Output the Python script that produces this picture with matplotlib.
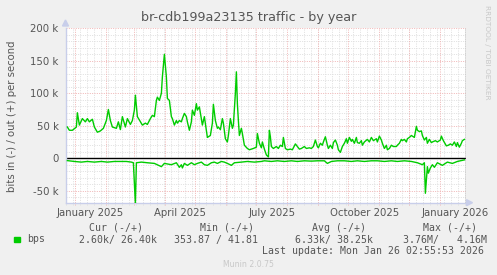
import numpy as np
import pandas as pd
import matplotlib
matplotlib.use("Agg")
import matplotlib.pyplot as plt
from matplotlib.patches import Rectangle, Polygon

# time window of the yearly graph (400 days back from last update)
start = np.datetime64("2024-12-22T02:55:53")
end = np.datetime64("2026-01-26T02:55:53")
day0 = np.datetime64("2024-12-22")

# out (+) traffic, day offset from 2024-12-22, value in kbit/s
out_day = [2, 4, 7, 11, 12, 14, 17, 20, 22, 24, 27, 29, 32, 35, 38, 41, 43, 45, 47, 51,
           53, 55, 57, 60, 62, 65, 67, 69, 70, 72, 75, 77, 80, 82, 85, 87, 89, 91, 92, 94,
           96, 97, 99, 101, 102, 104, 106, 107, 109, 111, 112, 114, 116, 117, 119, 121, 122, 124, 126, 127,
           129, 131, 132, 134, 136, 137, 139, 141, 142, 145, 147, 148, 150, 152, 153, 155, 157, 158, 160, 162,
           163, 165, 167, 168, 170, 171, 172, 173, 174, 176, 177, 179, 182, 184, 186, 188, 191, 192, 194, 196,
           197, 199, 201, 203, 204, 205, 206, 208, 211, 213, 215, 217, 218, 220, 222, 225, 227, 230, 232, 234,
           236, 239, 241, 244, 246, 248, 250, 252, 253, 255, 257, 258, 260, 262, 263, 265, 267, 268, 270, 272,
           273, 275, 277, 279, 281, 282, 284, 286, 287, 289, 291, 292, 294, 296, 297, 299, 302, 304, 306, 308,
           311, 312, 314, 316, 317, 319, 321, 322, 324, 326, 328, 331, 332, 334, 336, 337, 339, 341, 342, 344,
           346, 347, 349, 351, 352, 354, 356, 357, 359, 361, 362, 364, 366, 367, 370, 372, 375, 376, 378, 381,
           383, 385, 387, 389, 391, 392, 394, 396, 397, 399]
out_kbps = [48, 43, 43, 48, 70, 51, 61, 56, 61, 56, 60, 48, 40, 42, 46, 58, 75, 58, 48, 46,
            56, 44, 64, 48, 61, 52, 58, 74, 97, 64, 56, 51, 54, 52, 61, 66, 64, 89, 94, 89,
            100, 125, 160, 125, 92, 89, 64, 61, 51, 58, 54, 58, 56, 61, 69, 64, 56, 43, 56, 74,
            66, 84, 74, 79, 61, 51, 64, 43, 32, 35, 54, 83, 58, 46, 48, 44, 61, 54, 30, 25,
            35, 61, 46, 51, 100, 133, 84, 58, 35, 46, 38, 20, 15, 13, 14, 15, 17, 38, 23, 16,
            25, 14, 5, 2, 43, 33, 18, 15, 18, 15, 20, 18, 32, 15, 13, 14, 13, 22, 18, 14,
            15, 18, 15, 16, 15, 18, 28, 18, 16, 23, 20, 25, 33, 20, 15, 20, 15, 24, 28, 20,
            13, 9, 18, 23, 30, 23, 32, 26, 29, 23, 32, 24, 23, 27, 20, 25, 29, 25, 32, 27,
            30, 25, 34, 28, 23, 15, 20, 13, 15, 20, 18, 18, 20, 23, 29, 27, 29, 25, 30, 32,
            35, 34, 32, 49, 43, 41, 42, 35, 28, 32, 23, 29, 24, 25, 27, 25, 28, 34, 27, 19,
            20, 22, 20, 25, 18, 24, 17, 23, 27, 29]

# in (-) traffic, plotted below zero
in_day = [2, 9, 16, 22, 29, 36, 42, 49, 56, 61, 66, 68, 70, 71, 76, 82, 89, 96, 99, 106,
          111, 114, 116, 117, 119, 122, 126, 129, 132, 136, 139, 142, 146, 149, 152, 156, 159, 162, 166, 169,
          176, 182, 189, 196, 199, 206, 212, 219, 226, 232, 239, 246, 252, 259, 262, 266, 272, 279, 286, 292,
          299, 306, 312, 319, 326, 332, 339, 346, 352, 357, 359, 360, 362, 363, 365, 367, 369, 372, 377, 382,
          387, 392, 399]
in_kbps = [3.7, 5, 6, 5, 6, 5, 6, 5, 5, 5, 6, 7, 70, 7, 6, 7, 8, 13, 8, 10,
           7, 14, 10, 15, 8, 11, 7, 10, 8, 6, 10, 11, 7, 6, 8, 5, 6, 8, 11, 7,
           6, 5, 6, 5, 4, 5, 4, 5, 4, 5, 4, 4.5, 4, 4, 8, 5, 4, 4, 5, 4,
           5, 4, 4, 5, 4, 5, 4, 5, 7, 10, 7, 54, 13, 23, 15, 10, 14, 7, 11, 6,
           8, 5, 2.6]

yticks = [-50e3, 0, 50e3, 100e3, 150e3, 200e3]
ytick_labels = ["-50 k", "0", "50 k", "100 k", "150 k", "200 k"]
month_labels = ["January 2025", "April 2025", "July 2025", "October 2025", "January 2026"]
label_dates = ["2025-01-16", "2025-04-16", "2025-07-17", "2025-10-17", "2026-01-16"]

legend_head = ["Cur (-/+)", "Min (-/+)", "Avg (-/+)", "Max (-/+)"]
legend_vals = ["2.60k/ 26.40k", "353.87 / 41.81", "6.33k/ 38.25k", "3.76M/   4.16M"]

W, H = 497, 275
TXT = "#555555"
GREEN = "#00CC00"
AXISC = "#C8CEEA"
MINOR = "#DEDEDE"
MAJOR = "#F0B4B4"

fig = plt.figure(figsize=(W / 100, H / 100), dpi=100, facecolor="#F0F0F0")
L, R, T, B = 65.5, 465.5, 28.3, 202.7
ax = fig.add_axes([L / W, 1 - B / H, (R - L) / W, (B - T) / H])
ax.set_facecolor("white")

ax.set_xlim(start, end)
ax.set_ylim(-68.5e3, 200e3)

# grid: weekly gray, monthly red, 10k gray, 50k red
weeks = pd.date_range("2024-12-23", "2026-01-26", freq="W-MON").to_numpy()
months = pd.date_range("2025-01-01", "2026-01-26", freq="MS").to_numpy()
dot = (0, (1, 1.4))
trans = ax.get_xaxis_transform()
ax.vlines(weeks, -0.012, 1, transform=trans, colors=MINOR, lw=0.7, linestyles=dot, clip_on=False, zorder=1)
ax.vlines(months, -0.012, 1, transform=trans, colors=MAJOR, lw=0.7, linestyles=dot, clip_on=False, zorder=1.1)
for v in np.arange(-60e3, 200e3 + 1, 10e3):
    if v % 50e3 == 0:
        ax.axhline(v, color=MAJOR, lw=0.7, ls=dot, zorder=1.1)
    else:
        ax.axhline(v, color=MINOR, lw=0.7, ls=dot, zorder=1)

x_out = day0 + np.array(out_day).astype("timedelta64[D]")
x_in = day0 + np.array(in_day).astype("timedelta64[D]")
ax.plot(x_out, np.array(out_kbps) * 1000, color=GREEN, lw=1.0, zorder=3)
ax.plot(x_in, -np.array(in_kbps) * 1000, color=GREEN, lw=1.0, zorder=3)
ax.axhline(0, color="black", lw=1.0, zorder=2.5)
ax.axvline(end, color="#888888", lw=1.0, zorder=4)

ax.set_yticks(yticks)
ax.set_yticklabels(ytick_labels)
ax.set_xticks(np.array(label_dates, dtype="datetime64[D]"))
ax.set_xticklabels(month_labels)
ax.tick_params(axis="y", length=0, pad=5, labelsize=7.3, labelcolor=TXT)
ax.tick_params(axis="x", length=0, pad=3.5, labelsize=7.3, labelcolor=TXT)

for s in ["top", "right"]:
    ax.spines[s].set_visible(False)
ax.spines["left"].set_color(AXISC)
ax.spines["bottom"].set_color(AXISC)
ax.spines["left"].set_linewidth(1)
ax.spines["bottom"].set_linewidth(1)

# axis arrows
fig.add_artist(Polygon([[(L - 3) / W, 1 - 26 / H], [(L + 3) / W, 1 - 26 / H], [L / W, 1 - 20 / H]],
                       closed=True, color=AXISC, transform=fig.transFigure))
fig.add_artist(Polygon([[(R + 1) / W, 1 - (B - 3) / H], [(R + 1) / W, 1 - (B + 3) / H], [(R + 7) / W, 1 - B / H]],
                       closed=True, color=AXISC, transform=fig.transFigure))

fig.text(249 / W, 1 - 17 / H, "br-cdb199a23135 traffic - by year", ha="center", va="center",
         fontsize=9.2, color=TXT)
fig.text(12 / W, 1 - 116 / H, "bits in (-) / out (+) per second", rotation=90, ha="center",
         va="center", fontsize=7.3, color=TXT)
fig.text(487 / W, 1 - 5 / H, "RRDTOOL / TOBI OETIKER", rotation=270, ha="center", va="top",
         fontsize=5.3, color="#C8C8C8")

mono = "DejaVu Sans Mono"
head_x = [89, 200, 312, 423]
val_x = [79, 174, 295, 403]
for hx, h in zip(head_x, legend_head):
    fig.text(hx / W, 1 - 228 / H, h, ha="left", va="center", fontsize=7.1, family=mono, color=TXT)
for vx, v in zip(val_x, legend_vals):
    fig.text(vx / W, 1 - 239.5 / H, v, ha="left", va="center", fontsize=7.1, family=mono, color=TXT)
fig.add_artist(Rectangle((14 / W, 1 - 241.5 / H), 5.5 / W, 5 / H, color=GREEN, transform=fig.transFigure))
fig.text(27 / W, 1 - 239.5 / H, "bps", ha="left", va="center", fontsize=7.1, family=mono, color=TXT)
fig.text(262 / W, 1 - 251 / H, "Last update: Mon Jan 26 02:55:53 2026", ha="left", va="center",
         fontsize=7.1, family=mono, color=TXT)
fig.text(248 / W, 1 - 264.5 / H, "Munin 2.0.75", ha="center", va="center", fontsize=5.6, color="#C8C8C8")

fig.savefig("out.png", dpi=100, facecolor=fig.get_facecolor())
